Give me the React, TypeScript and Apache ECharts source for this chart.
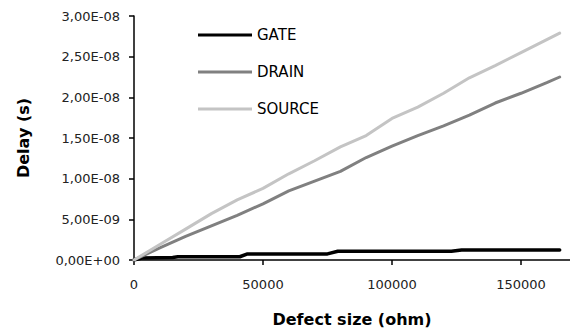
import React, { useEffect, useRef } from "react";
import * as echarts from "echarts";

const xTicks = [0, 50000, 100000, 150000];
const yTicks = [0, 5e-9, 1e-8, 1.5e-8, 2e-8, 2.5e-8, 3e-8];

const gateX = [0, 3000, 15000, 17000, 41000, 44000, 75000, 79000, 123000, 127000, 165000];
const gateY = [0, 2.5e-10, 3e-10, 4e-10, 4e-10, 7.5e-10, 7.5e-10, 1.07e-9, 1.07e-9, 1.23e-9, 1.23e-9];

const sizeX = [0, 10000, 20000, 30000, 40000, 50000, 60000, 70000, 80000, 90000, 100000, 110000, 120000, 130000, 140000, 150000, 160000, 165000];
const drainY = [0, 1.5e-9, 2.9e-9, 4.2e-9, 5.5e-9, 6.9e-9, 8.5e-9, 9.7e-9, 1.09e-8, 1.26e-8, 1.4e-8, 1.53e-8, 1.65e-8, 1.78e-8, 1.93e-8, 2.05e-8, 2.18e-8, 2.25e-8];
const sourceY = [0, 1.9e-9, 3.8e-9, 5.7e-9, 7.4e-9, 8.8e-9, 1.06e-8, 1.22e-8, 1.39e-8, 1.53e-8, 1.74e-8, 1.88e-8, 2.05e-8, 2.24e-8, 2.39e-8, 2.55e-8, 2.71e-8, 2.79e-8];

const seriesNames = ["GATE", "DRAIN", "SOURCE"];
const seriesColors = ["#000000", "#808080", "#c4c4c4"];
const seriesWidths = [3.5, 3, 3];

const pair = (xs: number[], ys: number[]) => xs.map((x, i) => [x, ys[i]]);

function fmtY(v: number): string {
  if (v === 0) return "0,00E+00";
  const [m, e] = v.toExponential(2).split("e");
  const n = parseInt(e, 10);
  const es = (n < 0 ? "-" : "+") + String(Math.abs(n)).padStart(2, "0");
  return m.replace(".", ",") + "E" + es;
}

export default function App() {
  const ref = useRef<HTMLDivElement>(null);
  useEffect(() => {
    const chart = echarts.init(ref.current!, null, { renderer: "svg" });
    const font = "DejaVu Sans";
    const datasets = [pair(gateX, gateY), pair(sizeX, drainY), pair(sizeX, sourceY)];
    chart.setOption({
      animation: false,
      backgroundColor: "#ffffff",
      grid: { left: 134, right: 0, top: 16, bottom: 69, containLabel: false, outerBoundsMode: "none" },
      legend: {
        orient: "vertical",
        left: 193,
        top: 22,
        icon: "rect",
        itemWidth: 54,
        itemHeight: 3,
        itemGap: 21,
        data: seriesNames,
        textStyle: { fontFamily: font, fontSize: 15, color: "#000", lineHeight: 16 },
      },
      xAxis: {
        type: "value",
        min: 0,
        max: 169000,
        interval: 50000,
        splitLine: { show: false },
        axisLine: { lineStyle: { color: "#000", width: 1.5 } },
        axisTick: { show: true, length: 5, lineStyle: { color: "#000", width: 1.5 } },
        axisLabel: {
          showMaxLabel: false,
          fontFamily: font,
          fontSize: 13,
          color: "#222",
          margin: 18,
          formatter: (v: number) => (xTicks.includes(v) ? String(v) : ""),
        },
        name: "Defect size (ohm)",
        nameLocation: "middle",
        nameGap: 51,
        nameTextStyle: { fontFamily: font, fontSize: 16, fontWeight: "bold", color: "#000" },
      },
      yAxis: {
        type: "value",
        min: 0,
        max: 3e-8,
        interval: 5e-9,
        splitLine: { show: false },
        axisLine: { show: true, lineStyle: { color: "#000", width: 1.5 } },
        axisTick: { show: true, length: 5, lineStyle: { color: "#000", width: 1.5 } },
        axisLabel: {
          fontFamily: font,
          fontSize: 13,
          color: "#222",
          margin: 14,
          formatter: (v: number) => (yTicks.some((t) => Math.abs(t - v) < 1e-12) ? fmtY(v) : ""),
        },
        name: "Delay (s)",
        nameLocation: "middle",
        nameGap: 103,
        nameTextStyle: { fontFamily: font, fontSize: 16, fontWeight: "bold", color: "#000" },
      },
      series: seriesNames.map((name, i) => ({
        name,
        type: "line",
        data: datasets[i],
        showSymbol: false,
        symbol: "none",
        lineStyle: { color: seriesColors[i], width: seriesWidths[i], cap: "round", join: "round" },
        itemStyle: { color: seriesColors[i] },
      })),
    });
    return () => chart.dispose();
  }, []);
  return <div ref={ref} style={{ width: 570, height: 329, position: "absolute", left: 0, top: 0 }} />;
}
